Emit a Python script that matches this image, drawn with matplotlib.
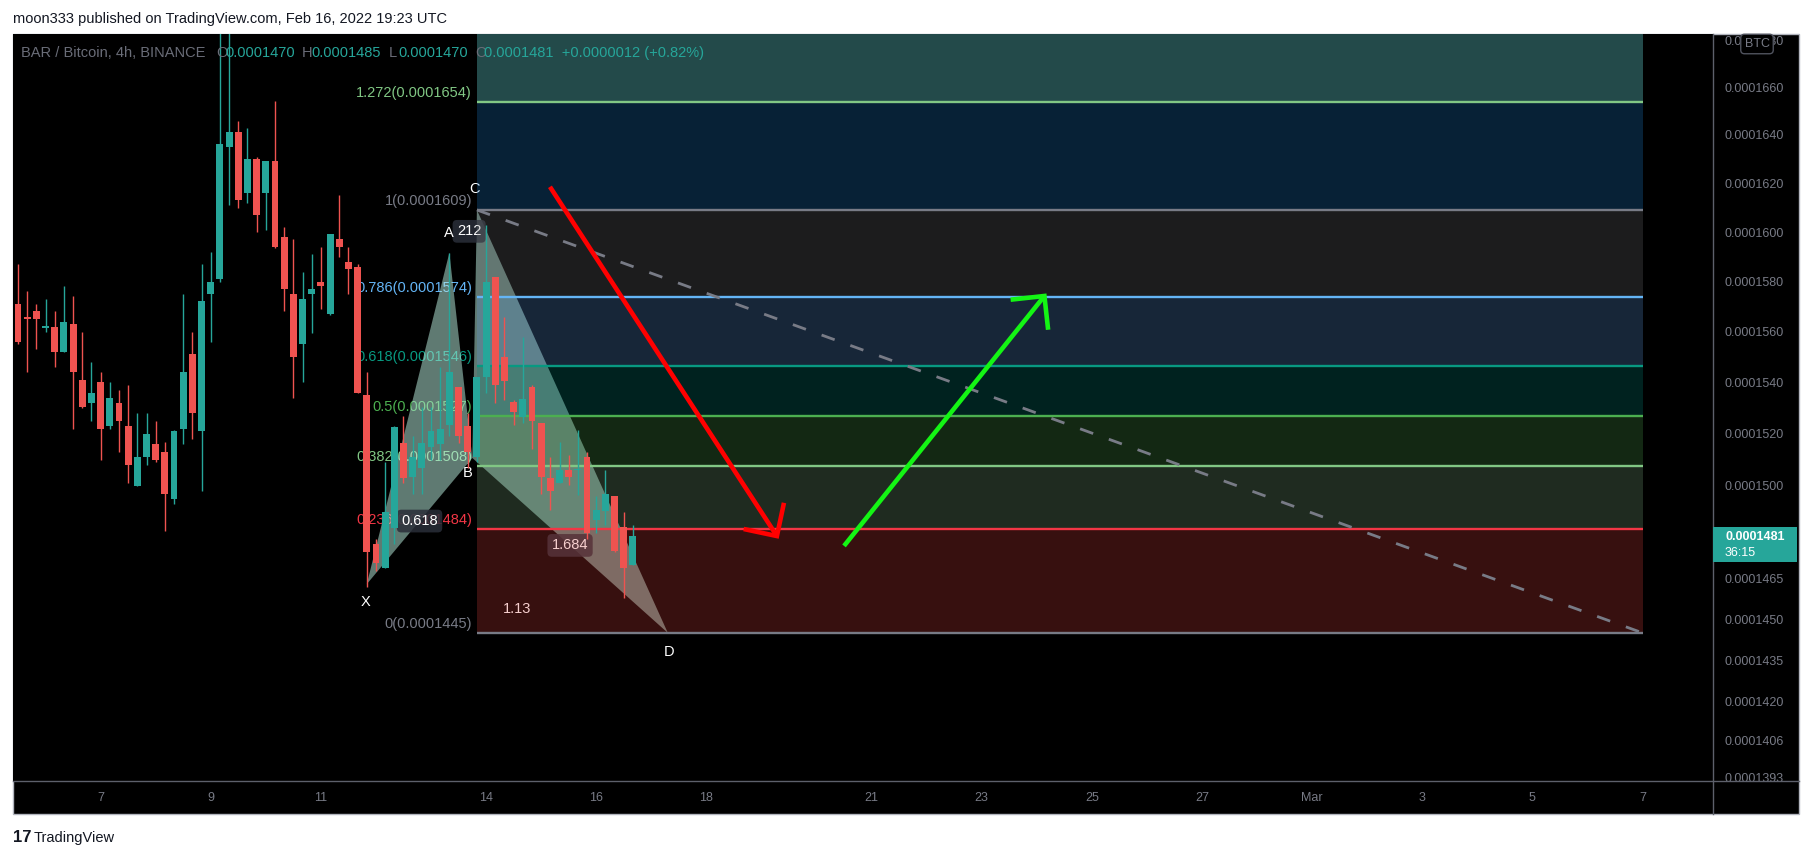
import numpy as np
import pandas as pd
import matplotlib
matplotlib.use("Agg")
import matplotlib.pyplot as plt
import matplotlib.dates as mdates
from matplotlib.patches import Rectangle, Polygon
from matplotlib.lines import Line2D
from matplotlib.ticker import NullLocator, NullFormatter

plt.rcParams['font.family'] = ['Liberation Sans', 'DejaVu Sans']

#%% data  (prices in units of 1e-7 BTC, BAR/BTC 4h candles, Binance)
first_candle = "2022-02-05 12:00"
opens  = [1571, 1566, 1568, 1561.5, 1562, 1552, 1563, 1541, 1532, 1540,
          1523, 1532, 1523, 1500, 1511, 1516, 1513, 1495, 1522, 1551,
          1521, 1575, 1581, 1635, 1641, 1616, 1630, 1616, 1629, 1598,
          1575, 1555, 1575, 1580, 1567, 1597, 1588, 1586, 1535, 1478,
          1469, 1484, 1516.5, 1503.5, 1507, 1515, 1516, 1523.5, 1538, 1523,
          1511, 1542, 1582, 1550, 1532.5, 1526.5, 1538, 1524, 1503, 1501,
          1506, 1506, 1511, 1487, 1490.5, 1496, 1484.5, 1470]
highs  = [1587, 1576, 1571, 1573, 1568, 1578, 1574, 1560, 1548, 1544,
          1540, 1537, 1539, 1528, 1528, 1525, 1517, 1521.5, 1575, 1560,
          1587, 1592, 1700, 1695, 1646, 1643, 1631, 1629, 1654, 1602,
          1597, 1584, 1591, 1594, 1599, 1615, 1594, 1587, 1544, 1480,
          1509, 1523, 1527, 1519, 1530.5, 1530.5, 1546, 1591.5, 1538, 1528,
          1542, 1603, 1582, 1566, 1533, 1558, 1539, 1524, 1511, 1517,
          1512, 1521.5, 1513, 1496, 1506, 1496, 1490, 1485]
lows   = [1555, 1544, 1553, 1560, 1546, 1552, 1522, 1530, 1525, 1510,
          1522, 1513, 1501, 1500, 1508, 1509, 1483, 1493, 1516, 1518,
          1498, 1556, 1580, 1611, 1610, 1612, 1600, 1601, 1593.5, 1568,
          1534, 1540, 1559.5, 1569, 1566.5, 1590, 1575, 1536, 1462, 1468,
          1469, 1478, 1501, 1497, 1497, 1510, 1510, 1519, 1516.5, 1507,
          1509, 1536, 1532, 1533, 1523.5, 1524, 1514, 1497, 1491, 1501,
          1500.5, 1496.5, 1480, 1482, 1485, 1475, 1458, 1470]
closes = [1556, 1565, 1565, 1562, 1552, 1564, 1544, 1530.5, 1536, 1522,
          1534, 1525, 1508, 1511, 1520, 1510, 1497, 1521, 1544, 1528,
          1572, 1580, 1636, 1641, 1613, 1630, 1607, 1629, 1594, 1577,
          1550, 1573, 1577, 1578, 1599, 1594, 1585, 1536, 1475, 1471,
          1490, 1522.5, 1503, 1511, 1516.5, 1521, 1522, 1544, 1519, 1513,
          1542, 1580, 1539, 1540.5, 1528.5, 1533.5, 1525, 1503.5, 1498, 1506,
          1503.5, 1506.5, 1482, 1491, 1497, 1475.5, 1469, 1481]

# fib retracement drawn from C down to D
fib_start, fib_end = "2022-02-13 20:00", "2022-03-07 00:00"
fib_hi, fib_lo = 1609, 1445
fib_ratios = [0, 0.236, 0.382, 0.5, 0.618, 0.786, 1, 1.272, 1.618]
fib_colors = ['#787b86', '#f23645', '#81c784', '#4caf50', '#089981',
              '#64b5f6', '#787b86', '#81c784', '#089981']
band_colors = ['#dc403c', '#7cac80', '#4ca04c', '#00887c', '#5c98e0',
               '#707074', '#1c84d8', '#75f7f7']
band_alpha = [0.25, 0.25, 0.25, 0.25, 0.25, 0.25, 0.25, 0.3]

# XABCD harmonic pattern points
pattern_names = ['X', 'A', 'B', 'C', 'D']
pattern_times = ["2022-02-11 20:00", "2022-02-13 08:00", "2022-02-13 18:00",
                 "2022-02-13 20:00", "2022-02-17 07:12"]
pattern_prices = [1463, 1591.6, 1510.7, 1609, 1445]
ratio_labels = {('X', 'B'): '0.618', ('A', 'C'): '212', ('B', 'D'): '1.684', ('X', 'D'): '1.13'}

# hand drawn arrows
red_arrow = [("2022-02-15 03:50", 1618.5), ("2022-02-19 06:45", 1481)]
green_arrow = [("2022-02-20 12:00", 1477.3), ("2022-02-24 03:20", 1574.2)]

# axes
ytick_vals = [1680, 1660, 1640, 1620, 1600, 1580, 1560, 1540, 1520, 1500,
              1465, 1450, 1435, 1420, 1406, 1393]
xtick_dates = ["2022-02-07", "2022-02-09", "2022-02-11", "2022-02-14", "2022-02-16",
               "2022-02-18", "2022-02-21", "2022-02-23", "2022-02-25", "2022-02-27",
               "2022-03-01", "2022-03-03", "2022-03-05", "2022-03-07"]
xtick_labels = ['7', '9', '11', '14', '16', '18', '21', '23', '25', '27', 'Mar', '3', '5', '7']
last_price = 1481
countdown = "36:15"

TEAL, RED = '#26a69a', '#ef5350'
AXIS_TXT = '#787b86'

#%% figure + panel
W, H = 1813, 860
fig = plt.figure(figsize=(W / 100, H / 100), dpi=100, facecolor='white')


def fx(px):
    return px / W


def fy(py):
    return 1 - py / H


fig.patches.append(Rectangle((fx(13), fy(814)), fx(1799) - fx(13), fy(34) - fy(814),
                             transform=fig.transFigure, facecolor='black',
                             edgecolor='#b2b5be', lw=1, zorder=-1))
ax = fig.add_axes([fx(13), fy(781), fx(1713) - fx(13), fy(34) - fy(781)])
ax.set_facecolor('black')
for s in ax.spines.values():
    s.set_visible(False)

ax.set_yscale('log')
ax.set_ylim(1391.6, 1682.6)
ax.set_xlim(mdates.date2num(pd.Timestamp("2022-02-05 09:49")),
            mdates.date2num(pd.Timestamp("2022-03-08 06:43")))
ax.yaxis.set_minor_locator(NullLocator())
ax.yaxis.set_minor_formatter(NullFormatter())
ax.set_yticks(ytick_vals)
ax.set_yticklabels([f"{v / 1e7:.7f}" for v in ytick_vals])
ax.yaxis.tick_right()
ax.tick_params(axis='y', length=0, pad=8.5, labelcolor=AXIS_TXT, labelsize=9)
ax.set_xticks(mdates.date2num(pd.to_datetime(xtick_dates)))
ax.set_xticklabels(xtick_labels)
ax.tick_params(axis='x', length=0, pad=8, labelcolor=AXIS_TXT, labelsize=9)

fig.add_artist(Line2D([fx(1713)] * 2, [fy(34), fy(814)], color='#5d606b', lw=1))
fig.add_artist(Line2D([fx(13), fx(1799)], [fy(781)] * 2, color='#5d606b', lw=1))

#%% candles
t = mdates.date2num(pd.date_range(first_candle, periods=len(opens), freq="4h"))
o, h, l, c = map(np.array, (opens, highs, lows, closes))
col = np.where(c >= o, TEAL, RED)
ax.vlines(t, l, h, colors=col, lw=1, zorder=5)
lo_b = np.minimum(o, c)
ax.bar(t, np.maximum(np.abs(c - o), 0.6), bottom=lo_b, width=0.125,
       color=col, lw=0, zorder=6)

#%% fib retracement
f0, f1 = mdates.date2num(pd.Timestamp(fib_start)), mdates.date2num(pd.Timestamp(fib_end))
levels = [fib_lo + r * (fib_hi - fib_lo) for r in fib_ratios]
for i in range(len(levels) - 1):
    ax.fill_between([f0, f1], levels[i], levels[i + 1], color=band_colors[i],
                    alpha=band_alpha[i], lw=0, zorder=3)
for r, lv, cl in zip(fib_ratios, levels, fib_colors):
    ax.plot([f0, f1], [lv, lv], color=cl, lw=1.7, zorder=4, solid_capstyle='butt')
    ax.annotate(f"{r:g}({lv / 1e7:.7f})", (f0, lv), xytext=(-5, 9),
                textcoords='offset pixels', ha='right', va='center',
                color=cl, fontsize=10.5, zorder=1.5, annotation_clip=True)
trend = ax.plot([f0, f1], [fib_hi, fib_lo], color='#787b86', lw=2, zorder=7)[0]
trend.set_dashes([5, 6])

#%% XABCD pattern
pts = {n: (mdates.date2num(pd.Timestamp(tt)), p)
       for n, tt, p in zip(pattern_names, pattern_times, pattern_prices)}
for tri in (('X', 'A', 'B'), ('B', 'C', 'D')):
    ax.add_patch(Polygon([pts[n] for n in tri], closed=True, facecolor='#bef4e4',
                         alpha=0.5, edgecolor='none', zorder=2))

letter_off = {'X': (-1, -18), 'A': (-1, 20), 'B': (-5, -15), 'C': (-2, 21), 'D': (1, -19)}
for n in pattern_names:
    ax.annotate(n, pts[n], xytext=letter_off[n], textcoords='offset pixels',
                ha='center', va='center', color='white', fontsize=10.5, zorder=2.6)


def mid(p, q):
    a = ax.transData.transform(p)
    b = ax.transData.transform(q)
    return ax.transData.inverted().transform((a + b) / 2)


for (p, q), txt in ratio_labels.items():
    m = mid(pts[p], pts[q])
    dx = 6 if txt == '212' else 0
    box = None if txt == '1.13' else dict(boxstyle='round,pad=0.3', fc='#2a2e39',
                                         ec='none', alpha=0.85)
    ax.annotate(txt, m, xytext=(dx, 0), textcoords='offset pixels', ha='center',
                va='center', color='white', fontsize=10.5, bbox=box, zorder=2.5)

#%% arrows
def draw_arrow(seg, color):
    (t0, v0), (t1, v1) = seg
    x0, x1 = mdates.date2num(pd.Timestamp(t0)), mdates.date2num(pd.Timestamp(t1))
    ax.plot([x0, x1], [v0, v1], color=color, lw=3.3, solid_capstyle='butt', zorder=9)
    tip = ax.transData.transform((x1, v1))
    back = ax.transData.transform((x0, v0)) - tip
    back = back / np.hypot(*back)
    ends = []
    for ang in (np.pi / 4, -np.pi / 4):
        rot = np.array([[np.cos(ang), -np.sin(ang)], [np.sin(ang), np.cos(ang)]])
        ends.append(ax.transData.inverted().transform(tip + 34 * rot @ back))
    ax.plot([ends[0][0], x1, ends[1][0]], [ends[0][1], v1, ends[1][1]], color=color,
            lw=3.3, solid_joinstyle='miter', solid_capstyle='butt', zorder=9)


draw_arrow(red_arrow, '#ff0000')
draw_arrow(green_arrow, '#14f514')

#%% texts around the chart
fig.text(fx(13), fy(18.5), "moon333 published on TradingView.com, Feb 16, 2022 19:23 UTC",
         va='center', fontsize=10.5, color='#131722')
fig.text(fx(21), fy(53), "BAR / Bitcoin, 4h, BINANCE", va='center', fontsize=10.5, color='#6a6d78')
ohlc = [('O', '0.0001470', 216), ('H', '0.0001485', 302), ('L', '0.0001470', 389),
        ('C', '0.0001481  +0.0000012 (+0.82%)', 475)]
for k, v, px in ohlc:
    fig.text(fx(px), fy(53), k, va='center', fontsize=10.5, color='#6a6d78')
    fig.text(fx(px + 9), fy(53), v, va='center', fontsize=10.5, color=TEAL)

# last price tag on the price scale
fig.patches.append(Rectangle((fx(1713), fy(562)), fx(1797) - fx(1713), fy(527) - fy(562),
                             transform=fig.transFigure, facecolor=TEAL, lw=0, zorder=5))
fig.text(fx(1725), fy(537), f"{last_price / 1e7:.7f}", va='center', fontsize=9,
         fontweight='bold', color='white', zorder=6)
fig.text(fx(1725), fy(553), countdown, va='center', fontsize=9, color='white', zorder=6)
fig.text(fx(1757), fy(44), "BTC", ha='center', va='center', fontsize=9, color=AXIS_TXT,
         bbox=dict(boxstyle='round,pad=0.3', fc='black', ec='#50535e'), zorder=6)

fig.text(fx(13), fy(838), "17", va='center', fontsize=12, fontweight='bold', color='#131722')
fig.text(fx(34), fy(838), "TradingView", va='center', fontsize=10.5, color='#131722')

fig.savefig("out.png", dpi=100, facecolor='white')
